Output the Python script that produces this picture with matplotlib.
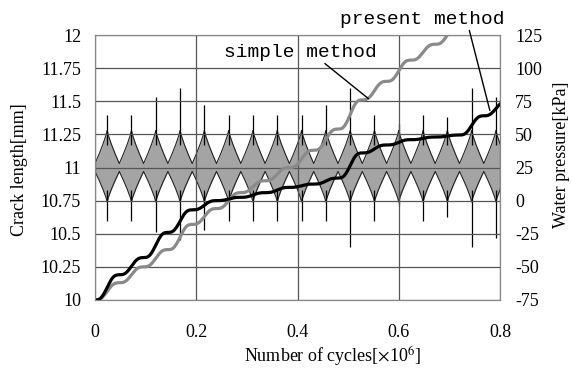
import numpy as np
import matplotlib.pyplot as plt

plt.rcParams['font.family'] = ['Liberation Serif', 'DejaVu Serif']
plt.rcParams['mathtext.fontset'] = 'stix'
plt.rcParams['axes.unicode_minus'] = False

# --- data ---
cycle_centers = [0.024, 0.072, 0.120, 0.168, 0.216, 0.264, 0.312, 0.360, 0.408,
                 0.456, 0.504, 0.552, 0.600, 0.648, 0.696, 0.744, 0.792]
valleys = [0.000, 0.048, 0.096, 0.144, 0.192, 0.240, 0.288, 0.336, 0.384,
           0.432, 0.480, 0.528, 0.576, 0.624, 0.672, 0.720, 0.768, 0.816]

# water pressure [kPa]
upper_spike = [65, 65, 78, 85, 72, 65, 65, 65, 65, 72, 85, 65, 58, 65, 63, 85, 78]
lower_spike = [-15, -15, -24, -30, -22, -15, -15, -15, -15, -15, -35, -15, -3, -15, -12, -35, -28]
upper_env = (53, 28)   # cusp top, valley
lower_env = (-1, 22)   # cusp bottom, valley

# crack length [mm] at the valleys between cycles
present_levels = [10.00, 10.19, 10.32, 10.51, 10.68, 10.75, 10.775, 10.81, 10.85,
                  10.875, 10.92, 11.11, 11.17, 11.21, 11.23, 11.245, 11.39, 11.50]
simple_levels = [10.00, 10.13, 10.25, 10.38, 10.57, 10.69, 10.81, 10.90, 11.00,
                 11.13, 11.29, 11.51, 11.65, 11.81, 11.93, 12.07]

x_ticks = [0, 0.2, 0.4, 0.6, 0.8]
x_labels = ['0', '0.2', '0.4', '0.6', '0.8']
crack_ticks = [10, 10.25, 10.5, 10.75, 11, 11.25, 11.5, 11.75, 12]
crack_labels = ['10', '10.25', '10.5', '10.75', '11', '11.25', '11.5', '11.75', '12']
pressure_ticks = [-75, -50, -25, 0, 25, 50, 75, 100, 125]

# cusp shape: distance from the cycle centre (share of half cycle) vs share of amplitude
prof_t = [0.0, 0.1, 0.35, 0.65, 1.0]
prof_f = [1.0, 0.85, 0.58, 0.3, 0.0]


def envelope():
    ex, eu, el = [], [], []
    for i, c in enumerate(cycle_centers):
        left, right = valleys[i], valleys[i + 1]
        side = list(zip(prof_t[::-1], prof_f[::-1]))
        for t, f in side:
            ex.append(c - t * (c - left))
            eu.append(upper_env[1] + f * (upper_env[0] - upper_env[1]))
            el.append(lower_env[1] + f * (lower_env[0] - lower_env[1]))
        for t, f in zip(prof_t[1:], prof_f[1:]):
            ex.append(c + t * (right - c))
            eu.append(upper_env[1] + f * (upper_env[0] - upper_env[1]))
            el.append(lower_env[1] + f * (lower_env[0] - lower_env[1]))
    return np.array(ex), np.array(eu), np.array(el)


def stair(levels):
    xs, ys = [], []
    t = np.linspace(0, 1, 30)
    for i in range(len(levels) - 1):
        xs.append(valleys[i] + t * (valleys[i + 1] - valleys[i]))
        ys.append(levels[i] + (levels[i + 1] - levels[i]) * (t - np.sin(2 * np.pi * t) / (2 * np.pi)))
    return np.concatenate(xs), np.concatenate(ys)


fig = plt.figure(figsize=(5.72, 3.74), dpi=100)
ax = fig.add_axes([95 / 572, 74 / 374, 405 / 572, 265 / 374])
ax2 = ax.twinx()
ax.set_zorder(ax2.get_zorder() + 1)
ax.patch.set_visible(False)

# water pressure band
ex, eu, el = envelope()
ax2.fill_between(ex, el, eu, color='#a4a4a4', lw=0)
ax2.plot(ex, eu, color='#222222', lw=0.8)
ax2.plot(ex, el, color='#222222', lw=0.8)
ax2.vlines(cycle_centers, 42, upper_spike, color='black', lw=0.9)
ax2.vlines(cycle_centers, lower_spike, 8, color='black', lw=0.9)
ax2.set_ylim(-75, 125)
ax2.set_yticks(pressure_ticks)

# crack growth
sx, sy = stair(simple_levels)
px, py = stair(present_levels)
ax.plot(sx, sy, color='#8a8a8a', lw=2.3, solid_capstyle='round')
ax.plot(px, py, color='black', lw=2.3, solid_capstyle='round')

ax.set_xlim(0, 0.8)
ax.set_ylim(10, 12)
ax.set_xticks(x_ticks, x_labels)
ax.set_yticks(crack_ticks, crack_labels)
ax.grid(True, color='#555555', lw=0.9)
ax.set_axisbelow(True)

for a in (ax, ax2):
    for s in a.spines.values():
        s.set_color('#888888')
ax.tick_params(axis='both', length=0, labelsize=13)
ax.tick_params(axis='x', pad=17)
ax.tick_params(axis='y', pad=10)
ax2.tick_params(axis='y', length=0, labelsize=13, pad=11)

fig.text(20 / 572, 1 - 170 / 374, 'Crack length[mm]', rotation=90,
         ha='center', va='center', fontsize=13)
fig.text(561 / 572, 1 - 155 / 374, 'Water pressure[kPa]', rotation=90,
         ha='center', va='center', fontsize=13)
fig.text(333 / 572, 1 - 357 / 374, r'Number of cycles[$\times$10$^{6}$]',
         ha='center', va='center', fontsize=13)

# labels with leader lines
ax.annotate('simple method', xy=(0.54, 11.52), xytext=(0.405, 11.87),
            ha='center', va='center', fontsize=14, family='Liberation Mono',
            arrowprops=dict(arrowstyle='-', color='black', lw=1.0,
                            shrinkA=0, shrinkB=0, relpos=(0.64, 0)))
ax.annotate('present method', xy=(0.78, 11.43), xytext=(0.647, 12.12),
            ha='center', va='center', fontsize=14, family='Liberation Mono',
            annotation_clip=False,
            arrowprops=dict(arrowstyle='-', color='black', lw=1.0,
                            shrinkA=0, shrinkB=0, relpos=(0.78, 0)))

fig.savefig('out.png', dpi=100)
